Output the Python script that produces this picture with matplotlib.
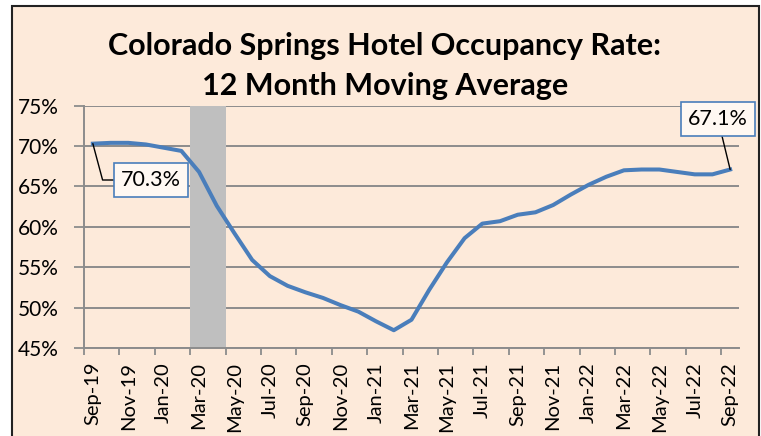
import matplotlib
matplotlib.use('Agg')
import matplotlib.pyplot as plt
from matplotlib.patches import Rectangle

# monthly 12-month moving average occupancy, Sep-19 .. Sep-22
months = ['Sep-19', 'Oct-19', 'Nov-19', 'Dec-19', 'Jan-20', 'Feb-20', 'Mar-20',
          'Apr-20', 'May-20', 'Jun-20', 'Jul-20', 'Aug-20', 'Sep-20', 'Oct-20',
          'Nov-20', 'Dec-20', 'Jan-21', 'Feb-21', 'Mar-21', 'Apr-21', 'May-21',
          'Jun-21', 'Jul-21', 'Aug-21', 'Sep-21', 'Oct-21', 'Nov-21', 'Dec-21',
          'Jan-22', 'Feb-22', 'Mar-22', 'Apr-22', 'May-22', 'Jun-22', 'Jul-22',
          'Aug-22', 'Sep-22']
occupancy = [70.3, 70.4, 70.4, 70.2, 69.8, 69.4, 66.8, 62.6, 59.2, 55.9, 53.9,
             52.7, 51.9, 51.2, 50.3, 49.5, 48.3, 47.2, 48.5, 52.2, 55.6, 58.6,
             60.4, 60.7, 61.5, 61.8, 62.7, 64.0, 65.2, 66.2, 67.0, 67.1, 67.1,
             66.8, 66.5, 66.5, 67.1]
# shaded months (covid shutdown)
shade_months = ['Mar-20', 'Apr-20']
yticks = [45, 50, 55, 60, 65, 70, 75]

bg = '#FDEADA'
blue = '#4A7EBB'
grid_col = '#8C8C8C'

fig = plt.figure(figsize=(7.61, 4.36), dpi=100)
fig.patch.set_facecolor('white')
frame = Rectangle((12/761, -0.02), 747/761, 1.02 - 6.5/436,
                  transform=fig.transFigure, facecolor=bg,
                  edgecolor='#222222', linewidth=1.5, zorder=-5)
fig.patches.append(frame)

ax = fig.add_axes([84/761, 1 - 348/436, (739 - 84)/761, (348 - 105.7)/436])
ax.set_facecolor('none')
ax.set_zorder(2)

x = list(range(len(months)))
shade_x = [months.index(m) for m in shade_months]
ax.bar(shade_x, [75 - 45] * len(shade_x), bottom=45, width=1.0,
       color='#BFBFBF', zorder=1)
ax.plot(x, occupancy, color=blue, linewidth=2.9, solid_joinstyle='round', zorder=3)

ax.set_xlim(-0.5, len(months) - 0.5)
ax.set_ylim(45, 75)
ax.set_yticks(yticks)
ax.set_yticklabels(['%d%%' % v for v in yticks], fontsize=15, family='Lato')
ax.yaxis.grid(True, color=grid_col, linewidth=1.4, zorder=0)
ax.set_axisbelow(True)

# tick marks between categories, labels on every other month
ax.set_xticks([i - 0.5 for i in range(0, len(months), 2)])
ax.set_xticklabels([])
ax.set_xticks(x[::2], minor=True)
ax.set_xticklabels(months[::2], minor=True, rotation=90, fontsize=14.5,
                   family='Lato')
ax.tick_params(axis='x', which='minor', length=0, pad=10)
ax.tick_params(axis='x', which='major', length=5, color=grid_col, width=1.3)
ax.tick_params(axis='y', length=7, color=grid_col, width=1.3, pad=11)

for s in ['top', 'right']:
    ax.spines[s].set_visible(False)
for s in ['left', 'bottom']:
    ax.spines[s].set_color(grid_col)
    ax.spines[s].set_linewidth(1.4)

box = dict(boxstyle='square,pad=0.32', facecolor='#FFF8F2', edgecolor=blue,
           linewidth=1.2)
ax.annotate('%.1f%%' % occupancy[0], xy=(0, occupancy[0]), xytext=(3.3, 65.8),
            ha='center', va='center', fontsize=15.5, family='Lato', bbox=box,
            arrowprops=dict(arrowstyle='-', color='black', linewidth=1,
                            connectionstyle='angle,angleA=0,angleB=105,rad=0',
                            shrinkA=0, shrinkB=0), zorder=5)
ax.annotate('%.1f%%' % occupancy[-1], xy=(36, occupancy[-1]), xytext=(35.3, 73.4),
            ha='center', va='center', fontsize=15.5, family='Lato', bbox=box,
            arrowprops=dict(arrowstyle='-', color='black', linewidth=1,
                            shrinkA=0, shrinkB=0), zorder=5, annotation_clip=False)

fig.text(385/761, 1 - 46/436, 'Colorado Springs Hotel Occupancy Rate:',
         ha='center', va='center', fontsize=22, fontweight='bold', family='Lato')
fig.text(385/761, 1 - 86/436, '12 Month Moving Average',
         ha='center', va='center', fontsize=22, fontweight='bold', family='Lato')

fig.savefig('out.png', dpi=100, facecolor=fig.get_facecolor())
